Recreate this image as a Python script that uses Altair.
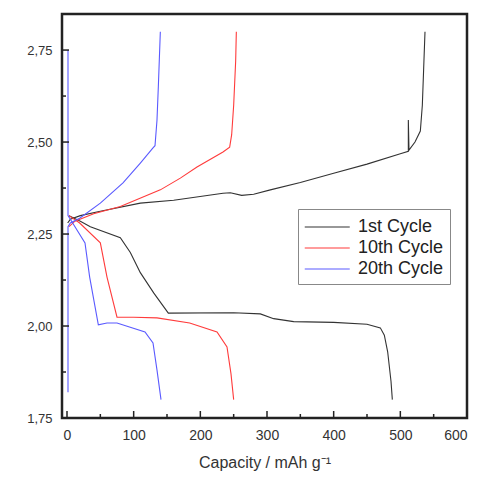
import altair as alt
import pandas as pd

# ---- data ----
c1_charge_x = [1, 5, 20, 50, 110, 160, 234, 245, 262, 280, 305, 350, 400, 450, 500, 512, 512, 513, 522, 530, 533, 535, 537]
c1_charge_y = [2.28, 2.29, 2.30, 2.312, 2.334, 2.342, 2.361, 2.362, 2.355, 2.358, 2.37, 2.39, 2.415, 2.44, 2.468, 2.475, 2.56, 2.478, 2.50, 2.53, 2.60, 2.70, 2.80]
c1_dis_x = [3, 20, 35, 80, 95, 110, 130, 152, 250, 290, 310, 340, 400, 450, 470, 476, 481, 486, 488]
c1_dis_y = [2.30, 2.285, 2.27, 2.24, 2.20, 2.145, 2.09, 2.035, 2.036, 2.033, 2.02, 2.012, 2.01, 2.005, 1.995, 1.975, 1.93, 1.85, 1.80]

c10_charge_x = [3, 12, 40, 80, 140, 170, 195, 234, 244, 247, 250, 253, 254]
c10_charge_y = [2.27, 2.285, 2.305, 2.325, 2.37, 2.402, 2.432, 2.473, 2.486, 2.52, 2.60, 2.72, 2.80]
c10_dis_x = [3, 19, 50, 60, 75, 100, 135, 184, 225, 240, 246, 250]
c10_dis_y = [2.30, 2.28, 2.226, 2.133, 2.024, 2.024, 2.022, 2.008, 1.984, 1.943, 1.87, 1.80]

c20_charge_x = [1.5, 1.5, 5, 19, 50, 84, 110, 129, 132, 135, 137, 140]
c20_charge_y = [1.82, 2.27, 2.28, 2.293, 2.334, 2.389, 2.443, 2.484, 2.49, 2.56, 2.65, 2.80]
c20_dis_x = [1.5, 1.5, 5, 27, 34, 47, 60, 75, 117, 129, 135, 141]
c20_dis_y = [2.75, 2.30, 2.29, 2.226, 2.133, 2.003, 2.008, 2.008, 1.984, 1.954, 1.88, 1.80]

cycles = ["1st Cycle", "10th Cycle", "20th Cycle"]
colors = ["#333333", "#ff3b3b", "#5a5aff"]

x_major = [0, 100, 200, 300, 400, 500, 600]
x_minor = [50, 150, 250, 350, 450, 550]
y_major = [1.75, 2.0, 2.25, 2.5, 2.75]
y_minor = [1.875, 2.125, 2.375, 2.625]

rows = []
for cyc, seg, xs, ys in [
    (cycles[0], "c", c1_charge_x, c1_charge_y),
    (cycles[0], "d", c1_dis_x, c1_dis_y),
    (cycles[1], "c", c10_charge_x, c10_charge_y),
    (cycles[1], "d", c10_dis_x, c10_dis_y),
    (cycles[2], "c", c20_charge_x, c20_charge_y),
    (cycles[2], "d", c20_dis_x, c20_dis_y),
]:
    for i, (x, y) in enumerate(zip(xs, ys)):
        rows.append({"cycle": cyc, "seg": cyc + seg, "i": i, "x": x, "y": y})
df = pd.DataFrame(rows)

W, H = 405, 404
xs = alt.Scale(domain=[-7.5, 600], nice=False, zero=False)
ys = alt.Scale(domain=[1.75, 2.848], nice=False, zero=False)

lines = alt.Chart(df).mark_line(strokeWidth=1.1, clip=True).encode(
    x=alt.X("x:Q", scale=xs,
            axis=alt.Axis(values=x_major, ticks=False, domain=False, grid=False,
                          title="Capacity / mAh g\u207b\u00b9", labelFontSize=14,
                          titleFontSize=16, labelPadding=10, titlePadding=12,
                          labelColor="#333", titleColor="#333", titleFontWeight="normal",
                          labelFont="Liberation Sans", titleFont="Liberation Sans")),
    y=alt.Y("y:Q", scale=ys,
            axis=alt.Axis(values=y_major, ticks=False, domain=False, grid=False, title=None,
                          labelExpr="replace(format(datum.value, '.2f'), '.', ',')",
                          labelFontSize=13, labelPadding=10, labelColor="#333",
                          labelFont="Liberation Sans")),
    color=alt.Color("cycle:N", scale=alt.Scale(domain=cycles, range=colors),
                    legend=alt.Legend(title=None, orient="none", legendX=236, legendY=195,
                                      symbolType="M-1,0H3", symbolSize=506, symbolStrokeWidth=1.1,
                                      labelFontSize=18, labelFont="Liberation Sans",
                                      labelColor="#222", strokeColor="#888", padding=6,
                                      rowPadding=0, labelOffset=30, fillColor="white")),
    detail="seg:N",
    order="i:Q",
)

xt_major = alt.Chart(pd.DataFrame({"v": x_major})).mark_rule(color="#222", strokeWidth=1.5).encode(
    x=alt.X("v:Q", scale=xs), y=alt.value(H), y2=alt.value(H - 7))
xt_minor = alt.Chart(pd.DataFrame({"v": x_minor})).mark_rule(color="#222", strokeWidth=1.5).encode(
    x=alt.X("v:Q", scale=xs), y=alt.value(H), y2=alt.value(H - 4))
yt_major = alt.Chart(pd.DataFrame({"v": y_major})).mark_rule(color="#222", strokeWidth=1.5).encode(
    y=alt.Y("v:Q", scale=ys), x=alt.value(0), x2=alt.value(7))
yt_minor = alt.Chart(pd.DataFrame({"v": y_minor})).mark_rule(color="#222", strokeWidth=1.5).encode(
    y=alt.Y("v:Q", scale=ys), x=alt.value(0), x2=alt.value(4))

chart = alt.layer(lines, xt_major, xt_minor, yt_major, yt_minor).properties(
    width=W, height=H,
    autosize=alt.AutoSizeParams(type="none"),
    padding={"left": 54, "top": 6, "right": 20, "bottom": 56},
    background="white",
).configure_view(stroke="#222", strokeWidth=2.5)

chart.save("out.html", embed_options={"renderer": "svg", "actions": False})
